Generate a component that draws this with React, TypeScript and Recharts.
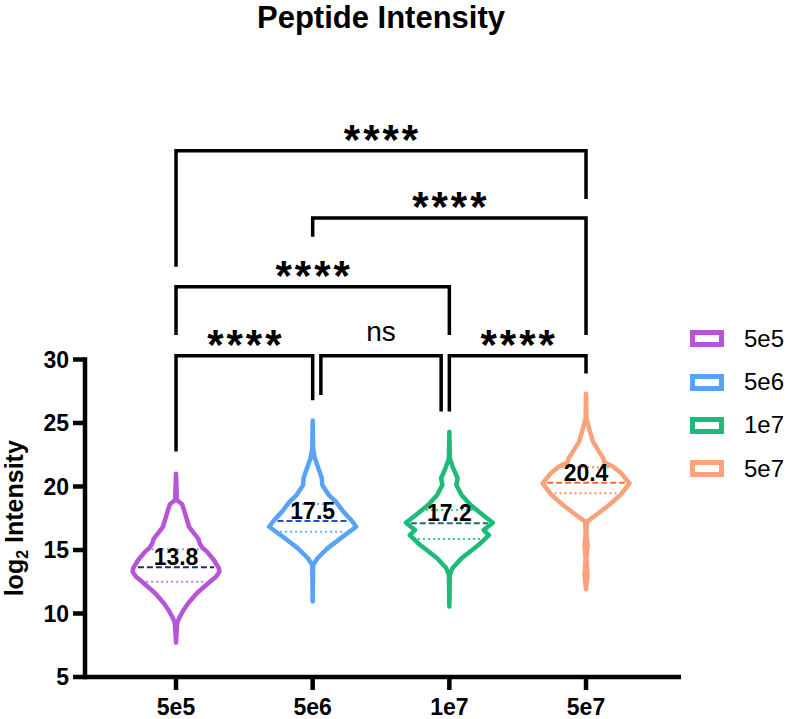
import { ComposedChart, XAxis, YAxis, Scatter, ReferenceLine } from 'recharts';

const categories = ['5e5', '5e6', '1e7', '5e7'];
const colors = ['#B655D8', '#58A3F5', '#1DBA79', '#F9A27C'];
const medianColors = ['#2A2766', '#1E4FD8', '#1F6E6A', '#F26B2A'];
const quartileColors = ['#C77FE6', '#6BB0F7', '#3DC99A', '#F7936A'];

// violin outlines, top to bottom: [log2 intensity, relative density]
const density5e5 = [
    [21.0, 0], [18.94, 0.02], [18.6, 0.14], [18.2, 0.18], [16.83, 0.3], [15.9, 0.51],
    [15.5, 0.55], [15.2, 0.6], [14.87, 0.71], [14.21, 0.87], [13.6, 0.98], [13.29, 1.0],
    [12.9, 0.92], [12.38, 0.74], [11.59, 0.48], [10.8, 0.28], [10.2, 0.16], [9.7, 0.08],
    [9.3, 0.03], [8.9, 0.02], [7.7, 0],
];
const density5e6 = [
    [25.2, 0], [23.0, 0.01], [22.22, 0.05], [21.17, 0.16], [20.65, 0.21], [20.12, 0.22],
    [19.33, 0.37], [18.8, 0.53], [18.0, 0.71], [17.3, 0.9], [16.83, 1.0], [15.92, 0.64],
    [15.13, 0.34], [14.35, 0.11], [13.82, 0.01], [10.95, 0],
];
const density1e7 = [
    [24.3, 0], [22.2, 0.01], [21.43, 0.09], [20.65, 0.19], [20.12, 0.16], [19.8, 0.21],
    [19.33, 0.28], [18.54, 0.49], [17.76, 0.77], [17.15, 1.0], [16.57, 0.79], [16.18, 0.91],
    [15.39, 0.67], [14.35, 0.28], [13.56, 0.07], [13.03, 0.01], [10.55, 0],
];
const density5e7 = [
    [27.3, 0], [25.37, 0.01], [24.58, 0.07], [23.53, 0.16], [22.74, 0.3], [22.22, 0.4],
    [21.9, 0.42], [21.56, 0.63], [21.04, 0.81], [20.25, 1.0], [19.33, 0.79], [18.54, 0.53],
    [17.76, 0.23], [17.23, 0.02], [16.18, 0.01], [15.39, 0.035], [14.35, 0.01], [13.03, 0.035],
    [12.24, 0.01], [11.9, 0],
];
const densities = [density5e5, density5e6, density1e7, density5e7];

const medians = [13.65, 17.28, 17.1, 20.3];
const medianLabels = ['13.8', '17.5', '17.2', '20.4'];
const upperQuartiles = [15.05, 18.62, 18.15, 21.51];
const lowerQuartiles = [12.5, 16.44, 15.87, 19.46];

const yTicks = [5, 10, 15, 20, 25, 30];

// significance brackets: groups a..b, bar height, leg ends
const comparisons = [
    { a: 1, b: 2, y: 30.3, legA: 22.75, legB: 26.8, label: '****' },
    { a: 2.06, b: 2.94, y: 30.3, legA: 27.2, legB: 25.9, label: 'ns' },
    { a: 3, b: 4, y: 30.3, legA: 25.9, legB: 28.9, label: '****' },
    { a: 1, b: 3, y: 35.73, legA: 31.93, legB: 31.93, label: '****' },
    { a: 2, b: 4, y: 41.14, legA: 39.67, legB: 31.93, label: '****' },
    { a: 1, b: 4, y: 46.44, legA: 37.3, legB: 42.64, label: '****' },
];

const X_MIN = 0.334;
const X_MAX = 4.695;
const Y_MIN = 5;
const Y_MAX = 50;
const HALF_WIDTH = 0.318;
const INSET = 0.03;
const FONT = "'Liberation Sans', Arial, sans-serif";

function outline(profile: number[][], center: number) {
    const right = profile.map(([y, d]) => ({ x: center + d * HALF_WIDTH, y }));
    const left = [...profile].reverse().map(([y, d]) => ({ x: center - d * HALF_WIDTH, y }));
    return [...right, ...left];
}

function widthAt(profile: number[][], v: number) {
    for (let i = 0; i < profile.length - 1; i++) {
        const [y0, d0] = profile[i];
        const [y1, d1] = profile[i + 1];
        if (v <= y0 && v >= y1) {
            const t = (y0 - v) / (y0 - y1);
            return (d0 + (d1 - d0) * t) * HALF_WIDTH;
        }
    }
    return 0;
}

const hidden = () => <g />;

function SigLabel(props: any) {
    const { cx, cy, payload } = props;
    if (payload.label === 'ns') {
        return (
            <text x={cx} y={cy - 15} textAnchor="middle" fontSize={28} fontFamily={FONT} fill="#000">
                ns
            </text>
        );
    }
    return (
        <text x={cx + 1.5} y={cy + 3} textAnchor="middle" fontSize={42} fontWeight={700} letterSpacing={3} fontFamily={FONT} fill="#000">
            {payload.label}
        </text>
    );
}

function MedianLabel(props: any) {
    const { cx, cy, payload } = props;
    return (
        <text x={cx} y={cy - 2} textAnchor="middle" fontSize={23} fontWeight={700} fontFamily={FONT} fill="#000">
            {payload.label}
        </text>
    );
}

function YTitle(props: any) {
    const { cx, cy } = props;
    const x = cx - 62;
    return (
        <text x={x} y={cy} transform={`rotate(-90, ${x}, ${cy})`} textAnchor="middle" fontSize={25} fontWeight={700} fontFamily={FONT} fill="#000">
            log<tspan fontSize={16} dy={5}>2</tspan><tspan dy={-5}> Intensity</tspan>
        </text>
    );
}

export default function App() {
    return (
        <div style={{ position: 'absolute', left: 0, top: 0, width: 787, height: 719, background: '#fff', fontFamily: FONT }}>
            <div style={{ position: 'absolute', left: 0, top: 0, width: 762, textAlign: 'center', fontSize: 31, fontWeight: 700, fontFamily: "'Liberation Sans Narrow', 'Liberation Sans', Arial, sans-serif", lineHeight: '36px' }}>
                Peptide Intensity
            </div>
            <ComposedChart width={787} height={719} margin={{ top: 105.5, right: 106, bottom: 0, left: 0 }}>
                <XAxis
                    type="number"
                    dataKey="x"
                    domain={[X_MIN, X_MAX]}
                    ticks={[1, 2, 3, 4]}
                    tickFormatter={(v) => categories[v - 1]}
                    height={42}
                    axisLine={{ stroke: '#000', strokeWidth: 4.5 }}
                    tickLine={{ stroke: '#000', strokeWidth: 4.5 }}
                    tickSize={13}
                    tickMargin={9}
                    tick={{ fontSize: 23, fontWeight: 700, fill: '#000', fontFamily: FONT }}
                />
                <YAxis
                    type="number"
                    dataKey="y"
                    domain={[Y_MIN, Y_MAX]}
                    ticks={yTicks}
                    width={85}
                    axisLine={false}
                    tickLine={{ stroke: '#000', strokeWidth: 4.5 }}
                    tickSize={12}
                    tickMargin={4}
                    tick={{ fontSize: 23, fontWeight: 700, fill: '#000', fontFamily: FONT }}
                />
                <ReferenceLine
                    segment={[{ x: X_MIN, y: Y_MIN }, { x: X_MIN, y: 30 }]}
                    stroke="#000"
                    strokeWidth={4.5}
                    strokeLinecap="square"
                    ifOverflow="visible"
                />
                {densities.map((profile, i) => (
                    <Scatter
                        key={categories[i]}
                        name={categories[i]}
                        data={outline(profile, i + 1)}
                        fill={colors[i]}
                        line={{ stroke: colors[i], strokeWidth: 4.5, strokeLinejoin: 'round', strokeLinecap: 'round' }}
                        shape={hidden}
                        isAnimationActive={false}
                    />
                ))}
                {categories.map((c, i) => {
                    const wq3 = widthAt(densities[i], upperQuartiles[i]) - INSET;
                    const wq1 = widthAt(densities[i], lowerQuartiles[i]) - INSET;
                    const wm = widthAt(densities[i], medians[i]) - INSET;
                    return [
                        <ReferenceLine
                            key={c + 'q3'}
                            segment={[{ x: i + 1 - wq3, y: upperQuartiles[i] }, { x: i + 1 + wq3, y: upperQuartiles[i] }]}
                            stroke={quartileColors[i]}
                            strokeWidth={2}
                            strokeDasharray="2 3"
                        />,
                        <ReferenceLine
                            key={c + 'q1'}
                            segment={[{ x: i + 1 - wq1, y: lowerQuartiles[i] }, { x: i + 1 + wq1, y: lowerQuartiles[i] }]}
                            stroke={quartileColors[i]}
                            strokeWidth={2}
                            strokeDasharray="2 3"
                        />,
                        <ReferenceLine
                            key={c + 'med'}
                            segment={[{ x: i + 1 - wm, y: medians[i] }, { x: i + 1 + wm, y: medians[i] }]}
                            stroke={medianColors[i]}
                            strokeWidth={2}
                            strokeDasharray="6 3"
                        />,
                    ];
                })}
                <Scatter
                    data={categories.map((c, i) => ({ x: i + 1, y: medians[i], label: medianLabels[i] }))}
                    shape={MedianLabel}
                    isAnimationActive={false}
                />
                {comparisons.map((cmp, i) => (
                    <Scatter
                        key={'cmp' + i}
                        data={[
                            { x: cmp.a, y: cmp.legA },
                            { x: cmp.a, y: cmp.y },
                            { x: cmp.b, y: cmp.y },
                            { x: cmp.b, y: cmp.legB },
                        ]}
                        fill="#000"
                        line={{ stroke: '#000', strokeWidth: 3.5, strokeLinejoin: 'miter' }}
                        shape={hidden}
                        isAnimationActive={false}
                    />
                ))}
                <Scatter
                    data={comparisons.map((cmp) => ({ x: (cmp.a + cmp.b) / 2, y: cmp.y, label: cmp.label }))}
                    shape={SigLabel}
                    isAnimationActive={false}
                />
                <Scatter data={[{ x: X_MIN, y: 17.5 }]} shape={YTitle} isAnimationActive={false} />
            </ComposedChart>
            <div style={{ position: 'absolute', left: 690, top: 317 }}>
                {categories.map((c, i) => (
                    <div key={c} style={{ display: 'flex', alignItems: 'center', height: 43.4 }}>
                        <div style={{ width: 34, height: 17, border: `5px solid ${colors[i]}`, boxSizing: 'border-box' }} />
                        <span style={{ marginLeft: 20, fontSize: 24, color: '#000' }}>{c}</span>
                    </div>
                ))}
            </div>
        </div>
    );
}
